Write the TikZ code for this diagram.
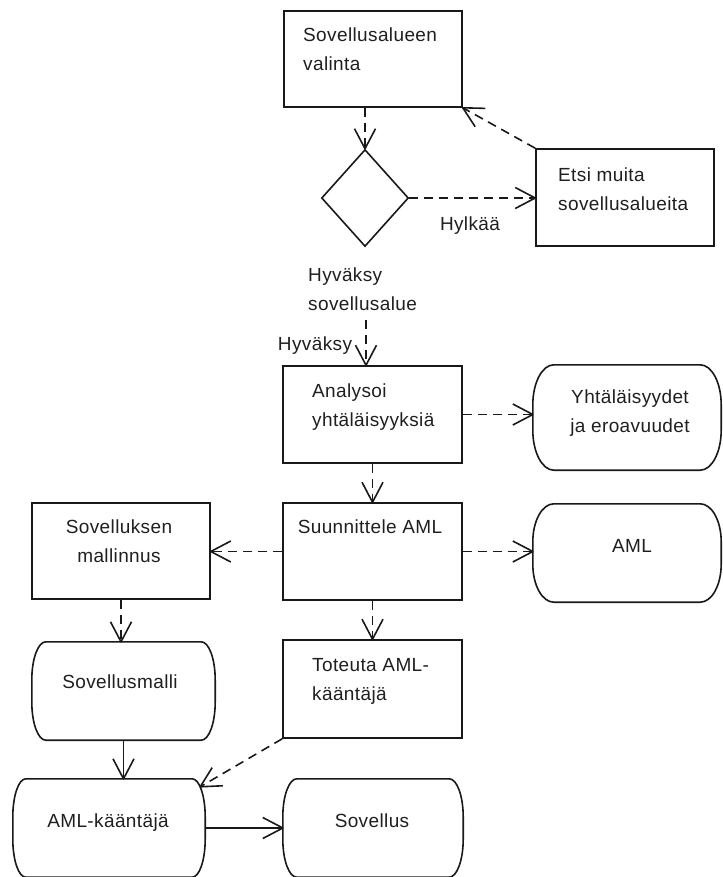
\documentclass[tikz,border=0pt]{standalone}
\usepackage{fontspec}
\setmainfont{Liberation Sans}[LetterSpace=2]
\usetikzlibrary{arrows.meta,calc,shapes.geometric}

% open "V" arrow head made of two straight strokes
\pgfdeclarearrow{
  name = OpenVee,
  parameters = {\the\pgfarrowlength,\the\pgfarrowwidth},
  setup code = {
    \pgfarrowssettipend{0pt}
    \pgfarrowssetlineend{0pt}
    \pgfarrowsupperhullpoint{-\pgfarrowlength}{.5\pgfarrowwidth}
    \pgfarrowsupperhullpoint{0pt}{0pt}
    \pgfarrowssavethe\pgfarrowlength
    \pgfarrowssavethe\pgfarrowwidth
  },
  drawing code = {
    \pgfsetdash{}{0pt}
    \pgfsetbuttcap
    \pgfsetroundjoin
    \pgfpathmoveto{\pgfqpoint{-\pgfarrowlength}{.5\pgfarrowwidth}}
    \pgfpathlineto{\pgfpointorigin}
    \pgfpathlineto{\pgfqpoint{-\pgfarrowlength}{-.5\pgfarrowwidth}}
    \pgfusepathqstroke
  },
  defaults = {length = 20pt, width = 21pt}
}

% outline with flat top/bottom and elliptic corners: node, x radius, y radius
\newcommand\drawcapsule[3]{%
  \draw[boxline] ($(#1.north west)+(#2,0)$) -- ($(#1.north east)+(-#2,0)$)
    arc[start angle=90,end angle=0,x radius=#2,y radius=#3]
    -- ($(#1.south east)+(0,#3)$)
    arc[start angle=0,end angle=-90,x radius=#2,y radius=#3]
    -- ($(#1.south west)+(#2,0)$)
    arc[start angle=270,end angle=180,x radius=#2,y radius=#3]
    -- ($(#1.north west)+(0,-#3)$)
    arc[start angle=180,end angle=90,x radius=#2,y radius=#3]
    -- cycle;}

\begin{document}
\begin{tikzpicture}[x=1pt,y=1pt,
  boxline/.style={line width=1.6pt, draw=black!90},
  actbox/.style={boxline, rectangle, inner sep=0pt},
  capbox/.style={rectangle, draw=none, inner sep=0pt},
  lbl/.style={inner sep=0pt, font=\fontsize{19}{29}\selectfont, text=black!88},
  lblL/.style={lbl, anchor=west, align=left},
  lblC/.style={lbl, align=center},
  dline/.style={line width=1.6pt, draw=black!90, dash pattern=on 9pt off 6pt, -{OpenVee}},
  sline/.style={line width=1.6pt, draw=black!90, -{OpenVee}},
]
\useasboundingbox (0,0) rectangle (722,-877);

% activity boxes
\node[actbox, minimum width=178pt, minimum height=96pt] (valinta)     at (373,-59)    {};
\node[actbox, minimum width=178pt, minimum height=97pt] (etsi)        at (625,-197.5) {};
\node[boxline, diamond, inner sep=0pt, minimum width=87pt, minimum height=97pt] (dia) at (365,-198) {};
\node[actbox, minimum width=179pt, minimum height=97pt] (analysoi)    at (372.5,-414.5) {};
\node[actbox, minimum width=179pt, minimum height=97pt] (suunn)       at (372.5,-551.5) {};
\node[actbox, minimum width=178pt, minimum height=96pt] (sovelluksen) at (121,-551)   {};
\node[actbox, minimum width=179pt, minimum height=98pt] (toteuta)     at (372.5,-689) {};

% artefacts
\node[capbox, minimum width=188pt, minimum height=105pt] (yht)      at (627,-417.5) {};
\node[capbox, minimum width=188pt, minimum height=98pt]  (aml)      at (627,-553)   {};
\node[capbox, minimum width=183pt, minimum height=98pt]  (sovmalli) at (123.5,-691) {};
\node[capbox, minimum width=192pt, minimum height=98pt]  (amlk)     at (109,-828)   {};
\node[capbox, minimum width=180pt, minimum height=98pt]  (sovellus) at (373,-828)   {};
\drawcapsule{yht}{21}{40}
\drawcapsule{aml}{21}{38}
\drawcapsule{sovmalli}{14}{38}
\drawcapsule{amlk}{13}{38}
\drawcapsule{sovellus}{14}{38}

% texts
\node[lblL] (t-valinta)  at (303,-50.5) {\strut Sovellusalueen\\\strut valinta};
\node[lblL] (t-etsi)     at (558,-190)  {\strut Etsi muita\\\strut sovellusalueita};
\node[lbl]  (t-hylkaa)   at (470,-225)  {\strut Hylkää};
\node[lblL] (t-hyv1)     at (308,-290)  {\strut Hyväksy\\\strut sovellusalue};
\node[lbl]  (t-hyv2)     at (315,-345)  {\strut Hyväksy};
\node[lblL] (t-analysoi) at (312,-406)  {\strut Analysoi\\\strut yhtäläisyyksiä};
\node[lblC] (t-yht)      at (630,-412)  {\strut Yhtäläisyydet\\\strut ja eroavuudet};
\node[lbl]  (t-suunn)    at (370,-528)  {\strut Suunnittele AML};
\node[lbl]  (t-aml)      at (632,-547)  {\strut AML};
\node[lblC] (t-sovelluksen) at (119,-542.5) {\strut Sovelluksen\\\strut mallinnus};
\node[lbl]  (t-sovmalli) at (120,-683)  {\strut Sovellusmalli};
\node[lblL] (t-toteuta)  at (312,-680)  {\strut Toteuta AML-\\\strut kääntäjä};
\node[lbl]  (t-amlk)     at (108,-822)  {\strut AML-kääntäjä};
\node[lbl]  (t-sovellus) at (372,-822)  {\strut Sovellus};

% connectors
\coordinate (hyvstart) at (366,-320);
\draw[dline] (valinta.south -| dia.north) -- (dia.north);
\draw[dline] (dia.east) -- (dia.east -| etsi.west);
\draw[dline] (etsi.north west) -- (valinta.south east);
\draw[dline] (hyvstart) -- (analysoi.north -| hyvstart);
\draw[dline] (analysoi.east) -- (analysoi.east -| yht.west);
\draw[dline] (analysoi.south) -- (suunn.north);
\draw[dline] (suunn.east) -- (suunn.east -| aml.west);
\draw[dline] (suunn.west) -- (suunn.west -| sovelluksen.east);
\draw[dline] (suunn.south) -- (toteuta.north);
\draw[dline] (sovelluksen.south) -- (sovelluksen.south |- sovmalli.north);
\draw[sline] (sovmalli.south) -- (sovmalli.south |- amlk.north);
\draw[dline] (toteuta.south west) -- ($(amlk.north east)+(-5,-8)$);
\draw[sline] (amlk.east) -- (amlk.east -| sovellus.west);
\end{tikzpicture}
\end{document}
